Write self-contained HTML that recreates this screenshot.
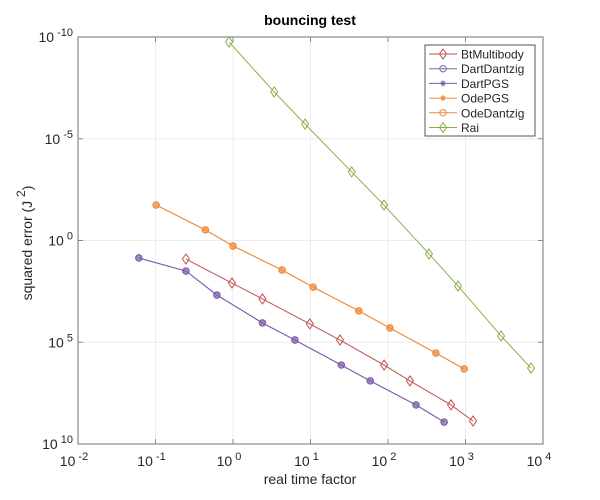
<!DOCTYPE html>
<html><head><meta charset="utf-8"><style>
body{margin:0;background:#fff;}
svg{display:block;font-family:"Liberation Sans",sans-serif;}
</style></head><body>
<svg id="chart" width="600" height="500">
<rect width="600" height="500" fill="#fff"/>
<g id="grid"></g>
<g id="axes"></g>
<g id="series"></g>
<text x="310" y="25" text-anchor="middle" font-size="14" font-weight="bold" fill="#000">bouncing test</text>
<text x="310" y="484" text-anchor="middle" font-size="14" fill="#262626">real time factor</text>
<text transform="translate(32,243) rotate(-90)" text-anchor="middle" font-size="14" fill="#262626">squared error (J <tspan dy="-7" font-size="12">2</tspan><tspan dy="7">)</tspan></text>
<g id="legend"></g>
</svg>
<script>
const xTickExps = [-2,-1,0,1,2,3,4];
const yTickExps = [-10,-5,0,5,10];
const seriesNames = ["BtMultibody","DartDantzig","DartPGS","OdePGS","OdeDantzig","Rai"];
const btX = [0.247,0.97,2.4,9.8,24,89,192,650,1250];
const btY = [0.91,2.09,2.87,4.10,4.89,6.12,6.9,8.08,8.87];
const dartX = [0.061,0.247,0.62,2.4,6.3,25,59,230,530];
const dartY = [0.86,1.5,2.68,4.05,4.89,6.12,6.9,8.08,8.92];
const odeX = [0.102,0.44,1.0,4.3,10.8,42,106,415,960];
const odeY = [-1.74,-0.52,0.27,1.45,2.29,3.46,4.30,5.53,6.31];
const raiX = [0.89,3.4,8.5,34,89,338,800,2880,7000];
const raiY = [-9.75,-7.3,-5.72,-3.37,-1.74,0.66,2.24,4.69,6.27];

const NS="http://www.w3.org/2000/svg";
const L=78,R=543,T=37,B=444;
function xs(v){return L+(Math.log10(v)+2)/6*(R-L);}
function ys(e){return T+(e+10)/20*(B-T);}
function mk(tag,attrs,parent){const e=document.createElementNS(NS,tag);for(const k in attrs)e.setAttribute(k,attrs[k]);parent.appendChild(e);return e;}
const grid=document.getElementById('grid'),axes=document.getElementById('axes'),ser=document.getElementById('series'),leg=document.getElementById('legend');
const AX='#8a8a8a';
xTickExps.forEach(p=>{const x=xs(Math.pow(10,p));
 const g=mk('line',{x1:x,x2:x,y1:T,y2:B,stroke:'#ececec','stroke-width':1},grid);
 
 mk('line',{x1:x,x2:x,y1:B,y2:B-5,stroke:AX},axes);
 mk('line',{x1:x,x2:x,y1:T,y2:T+5,stroke:AX},axes);
 const t=mk('text',{x:x-4,y:B+22,'text-anchor':'middle','font-size':14,fill:'#262626'},axes);
 
 t.innerHTML='10<tspan dy="-6" font-size="11"> '+p+'</tspan>';
});
yTickExps.forEach(p=>{const y=ys(p);
 const g=mk('line',{x1:L,x2:R,y1:y,y2:y,stroke:'#ececec','stroke-width':1},grid);
 
 mk('line',{x1:L,x2:L+5,y1:y,y2:y,stroke:AX},axes);
 mk('line',{x1:R,x2:R-5,y1:y,y2:y,stroke:AX},axes);
 const t=mk('text',{x:L-5,y:y+5,'text-anchor':'end','font-size':14,fill:'#262626'},axes);
 
 t.innerHTML='10<tspan dy="-6" font-size="11"> '+p+'</tspan>';
});
const frame=mk('rect',{x:L,y:T,width:R-L,height:B-T,fill:'none',stroke:AX,'stroke-width':1.2},axes);


function marker(type,x,y,c,parent){
 if(type==='diamond') mk('polygon',{points:`${x},${y-5} ${x+3.5},${y} ${x},${y+5} ${x-3.5},${y}`,fill:'none',stroke:c},parent);
 else if(type==='circle') mk('circle',{cx:x,cy:y,r:3.2,fill:'none',stroke:c},parent);
 else if(type==='dot') mk('circle',{cx:x,cy:y,r:3.2,fill:c,'fill-opacity':0.7,stroke:c},parent);
 else if(type==='star'){mk('path',{d:`M${x-3},${y}H${x+3}M${x},${y-3}V${y+3}M${x-2},${y-2}L${x+2},${y+2}M${x-2},${y+2}L${x+2},${y-2}`,stroke:c},parent);}
}
const defs=[
 {n:'bt',xs:btX,ys:btY,c:'#c0504d',m:'diamond'},
 {n:'dart-dantzig',xs:dartX,ys:dartY,c:'#8467b0',m:'circle'},
 {n:'dart-pgs',xs:dartX,ys:dartY,c:'#7a5ea8',m:'dot'},
 {n:'ode-pgs',xs:odeX,ys:odeY,c:'#ee8a3a',m:'dot'},
 {n:'ode-dantzig',xs:odeX,ys:odeY,c:'#ee8a3a',m:'circle'},
 {n:'rai',xs:raiX,ys:raiY,c:'#8ab04a',m:'diamond'}
];
defs.forEach(d=>{
 const g=mk('g',{},ser);
 
 const pts=d.xs.map((v,i)=>xs(v)+','+ys(d.ys[i])).join(' ');
 mk('polyline',{points:pts,fill:'none',stroke:d.c,'stroke-width':1},g);
 d.xs.forEach((v,i)=>marker(d.m,xs(v),ys(d.ys[i]),d.c,g));
});
const lb=mk('rect',{x:425,y:45,width:110,height:91,fill:'#fff',stroke:'#555'},leg);

const legM=['diamond','circle','star','star','circle','diamond'];
seriesNames.forEach((n,i)=>{
 const y=54+i*14.7,c=defs[i].c;
 const g=mk('g',{},leg);
 
 mk('line',{x1:429,x2:457,y1:y,y2:y,stroke:c},g);
 marker(legM[i],443,y,c,g);
 const t=mk('text',{x:461,y:y+4.5,'font-size':12,fill:'#262626'},g);
 t.textContent=n;
});
</script>
</body></html>
